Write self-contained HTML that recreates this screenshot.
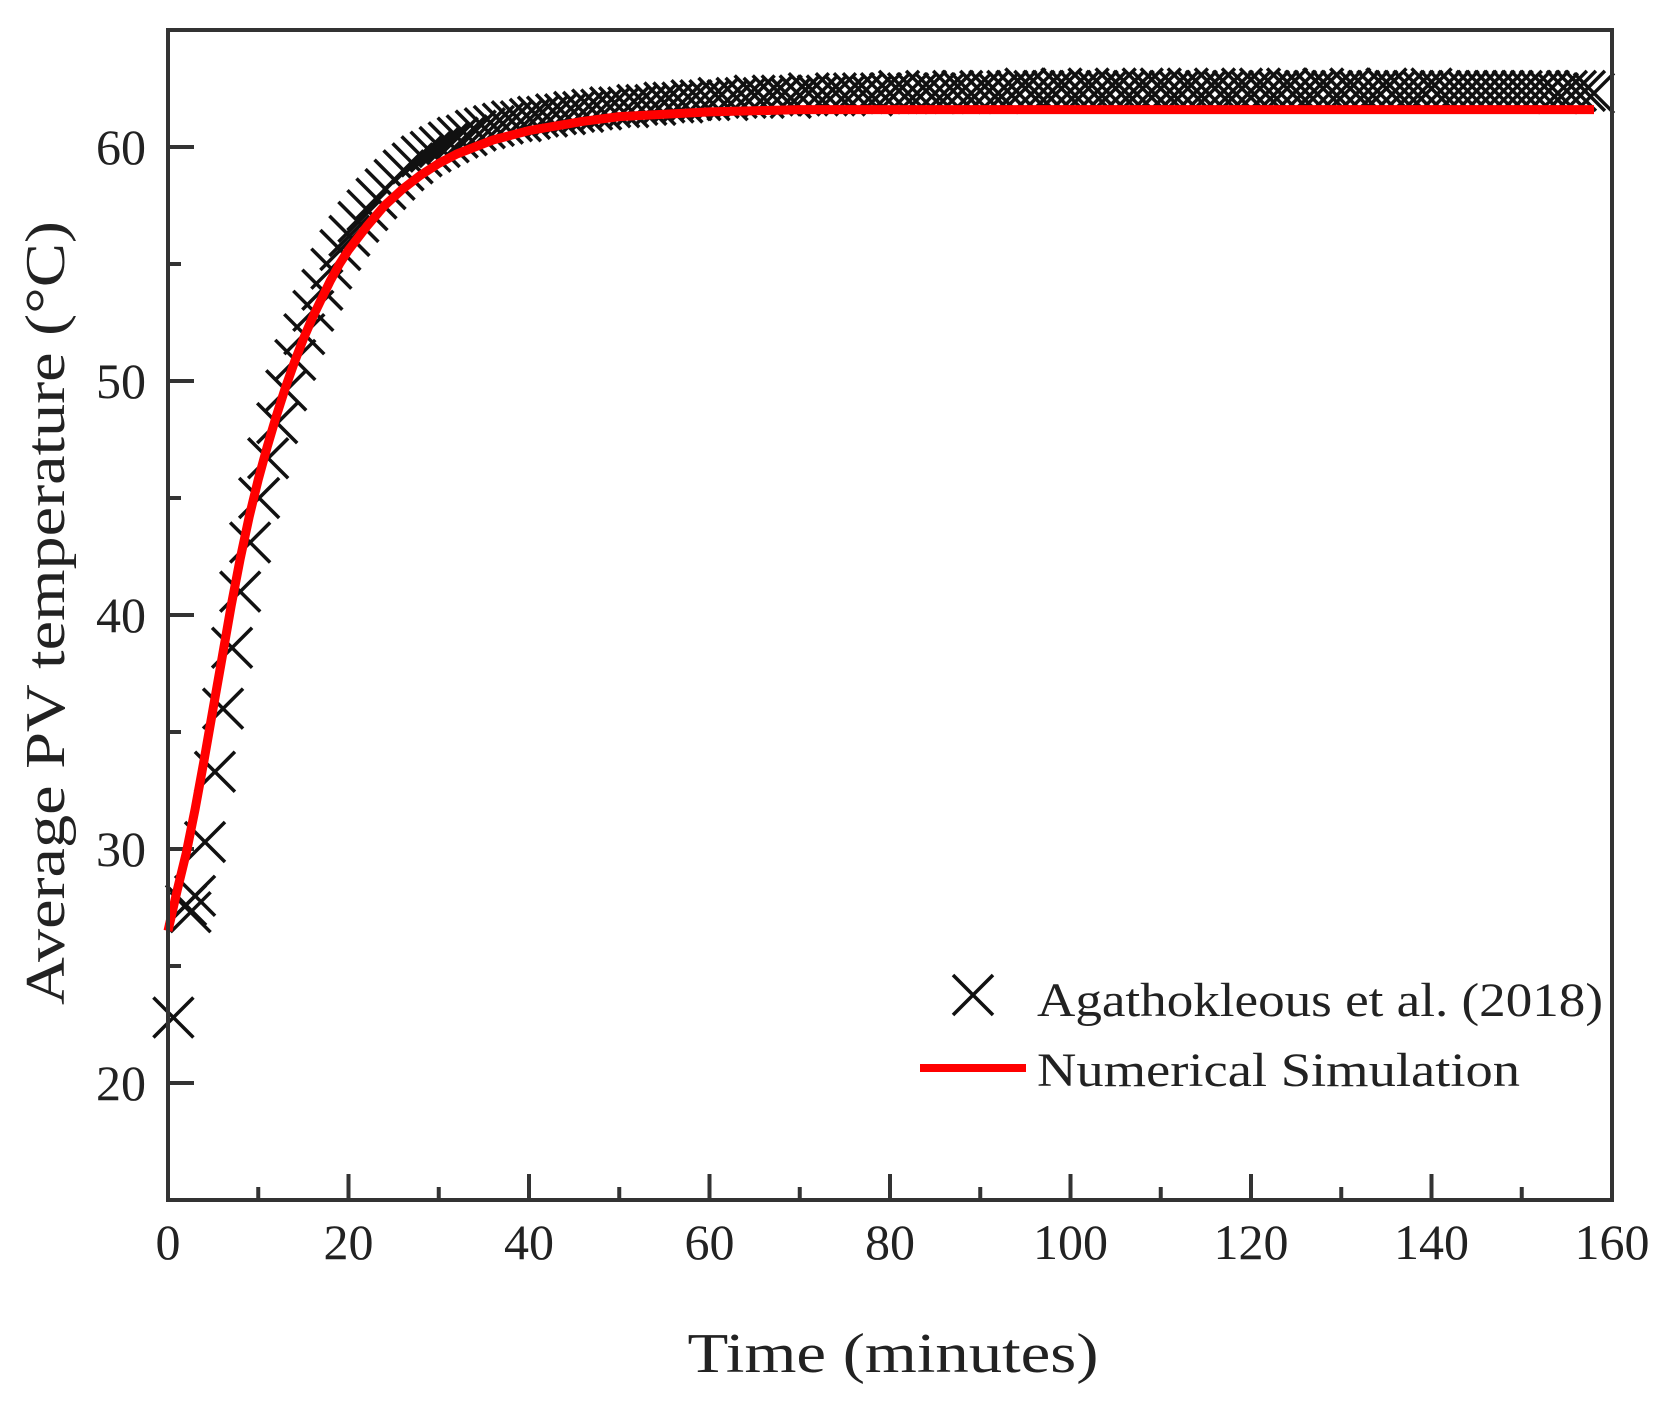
<!DOCTYPE html>
<html><head><meta charset="utf-8"><style>
html,body{margin:0;padding:0;background:#fff;}
svg{display:block;font-family:"Liberation Serif",serif;}
</style></head><body>
<svg id="chart" width="1664" height="1404" viewBox="0 0 1664 1404" xmlns="http://www.w3.org/2000/svg">
<g id="ticks"></g>
<g id="series"></g>
<rect x="168" y="30" width="1444" height="1170" fill="none" stroke="#333" stroke-width="4"/>
<text x="893" y="1372" font-size="56" text-anchor="middle" textLength="411" lengthAdjust="spacingAndGlyphs" fill="#222">Time (minutes)</text>
<text transform="translate(64,613) rotate(-90)" font-size="56" text-anchor="middle" textLength="784" lengthAdjust="spacingAndGlyphs" fill="#222">Average PV temperature (°C)</text>
<g>
<g stroke="#111" stroke-width="3.5"><line x1="953" y1="975" x2="993" y2="1015"/><line x1="953" y1="1015" x2="993" y2="975"/></g>
<text x="1037" y="1016" font-size="48" textLength="566" lengthAdjust="spacingAndGlyphs" fill="#222">Agathokleous et al. (2018)</text>
<line x1="920" y1="1068" x2="1026" y2="1068" stroke="#ff0000" stroke-width="8"/>
<text x="1037" y="1086" font-size="48" textLength="483" lengthAdjust="spacingAndGlyphs" fill="#222">Numerical Simulation</text>
</g>
</svg>
<script>
const xTicks = [0,20,40,60,80,100,120,140,160];
const yTicks = [20,30,40,50,60];
const expTimes = [0.6,2,2.5,3,4.1,5.2,6.1,7.1,8,9.1,10.1,11.1,12.1,13.1,14.1,15.1,16.1,17.1,18.1,19.1,20.1,21.1,22.1,23.1,24.1,25.1,26.1,27.1,28.1,29.1,30.1,31.1,32.1,33.1,34.1,35.1,36.1,37.1,38.1,39.1,40.1,41,42,43,44,45,46,47,48,49,50,51,52,53,54,55,56,57,58,59,60,61,62,63,64,65,66,67,68,69,70,71,72,73,74,75,76,77,78,79,80,81,82,83,84,85,86,87,88,89,90,91,92,93,94,95,96,97,98,99,100,101,102,103,104,105,106,107,108,109,110,111,112,113,114,115,116,117,118,119,120,121,122,123,124,125,126,127,128,129,130,131,132,133,134,135,136,137,138,139,140,141,142,143,144,145,146,147,148,149,150,151,152,153,154,155,156,157,158,159];
const expTemps = [22.8,27.6,27.3,28.0,30.3,33.3,36.0,38.6,41.0,43.1,45.0,46.7,48.2,49.6,50.9,52.0,53.0,53.9,54.8,55.6,56.2,56.8,57.3,57.8,58.2,58.6,59.0,59.3,59.6,59.8,60.0,60.2,60.4,60.5,60.7,60.8,60.9,61.0,61.1,61.1,61.2,61.3,61.3,61.4,61.4,61.5,61.5,61.6,61.6,61.7,61.7,61.7,61.8,61.8,61.8,61.9,61.9,61.9,62.0,62.0,62.0,62.1,62.0,62.1,62.1,62.2,62.1,62.2,62.2,62.1,62.2,62.3,62.2,62.2,62.3,62.2,62.3,62.3,62.2,62.3,62.3,62.4,62.3,62.3,62.4,62.3,62.3,62.4,62.4,62.3,62.4,62.4,62.3,62.4,62.4,62.5,62.4,62.4,62.4,62.5,62.4,62.4,62.5,62.4,62.4,62.5,62.4,62.4,62.5,62.4,62.5,62.4,62.4,62.5,62.4,62.4,62.5,62.4,62.4,62.5,62.4,62.5,62.4,62.4,62.5,62.4,62.4,62.4,62.5,62.4,62.4,62.5,62.4,62.4,62.4,62.5,62.4,62.4,62.4,62.4,62.5,62.4,62.4,62.4,62.4,62.4,62.4,62.4,62.4,62.4,62.4,62.4,62.4,62.4,62.3,62.4,62.4,62.4,62.3];
const simTimes = [0,1,2,3,4,5,6,7,8,9,10,11,12,13,14,15,16,17,18,19,20,22,24,26,28,30,32,34,36,38,40,43,46,50,55,60,70,80,100,120,140,158];
const simTemps = [26.5,28.2,29.8,31.7,33.8,36.0,38.2,40.4,42.4,44.2,45.8,47.2,48.5,49.7,50.8,51.8,52.7,53.5,54.3,55.0,55.6,56.6,57.5,58.2,58.8,59.3,59.7,60.0,60.3,60.5,60.7,60.9,61.1,61.3,61.4,61.5,61.6,61.6,61.6,61.6,61.6,61.6];

const NS='http://www.w3.org/2000/svg';
const X0=168,X1=1612,Y0=1200,Y1=30,XMIN=0,XMAX=160,YMIN=15,YMAX=65;
function xs(t){return X0+(t-XMIN)/(XMAX-XMIN)*(X1-X0);}
function ys(v){return Y0-(v-YMIN)/(YMAX-YMIN)*(Y0-Y1);}
function mk(tag,attrs,parent){const e=document.createElementNS(NS,tag);for(const k in attrs)e.setAttribute(k,attrs[k]);parent.appendChild(e);return e;}
const tg=document.getElementById('ticks');
xTicks.forEach(t=>{
  const l=mk('line',{x1:xs(t),x2:xs(t),y1:Y0,y2:Y0-26,stroke:'#333','stroke-width':4},tg);
  
  
  const tx=mk('text',{x:xs(t),y:1259,'font-size':50,'text-anchor':'middle',fill:'#222'},tg);
  tx.textContent=String(t);
  
  
});
for(let i=0;i<xTicks.length-1;i++){
  const m=(xTicks[i]+xTicks[i+1])/2;
  const l=mk('line',{x1:xs(m),x2:xs(m),y1:Y0,y2:Y0-13,stroke:'#333','stroke-width':4},tg);
  
  
}
yTicks.forEach(v=>{
  const l=mk('line',{x1:X0,x2:X0+26,y1:ys(v),y2:ys(v),stroke:'#333','stroke-width':4},tg);
  
  
  const tx=mk('text',{x:146,y:ys(v)+17,'font-size':50,'text-anchor':'end',fill:'#222'},tg);
  tx.textContent=String(v);
  
  
});
[15,25,35,45,55].forEach(v=>{
  const l=mk('line',{x1:X0,x2:X0+13,y1:ys(v),y2:ys(v),stroke:'#333','stroke-width':4},tg);
  
  
});
const sg=document.getElementById('series');
const eg=mk('g',{stroke:'#111','stroke-width':3.5,fill:'none'},sg);


const H=20;
expTimes.forEach((t,i)=>{
  const cx=xs(t),cy=ys(expTemps[i]);
  const p=mk('path',{d:`M${cx-H},${cy-H}L${cx+H},${cy+H}M${cx-H},${cy+H}L${cx+H},${cy-H}`},eg);
  
  
});
const d=simTimes.map((t,i)=>(i?'L':'M')+xs(t).toFixed(1)+','+ys(simTemps[i]).toFixed(1)).join('');
const sl=mk('path',{d:d,stroke:'#ff0000','stroke-width':9,fill:'none','stroke-linejoin':'round'},sg);


</script>
</body></html>
